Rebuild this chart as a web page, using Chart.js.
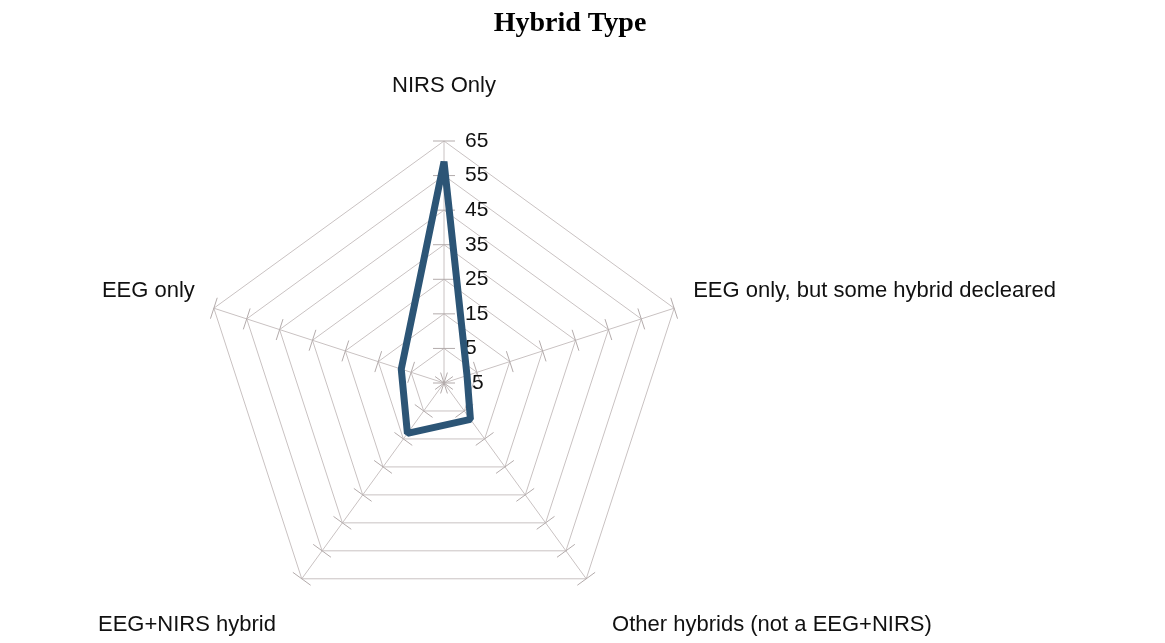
<!DOCTYPE html>
<html>
<head>
<meta charset="utf-8">
<script src="https://cdn.jsdelivr.net/npm/chart.js@4.4.1/dist/chart.umd.min.js"></script>
<style>
  html, body { margin: 0; padding: 0; background: #ffffff; overflow: hidden; width: 1165px; height: 643px; }
  #view { position: relative; width: 1165px; height: 643px; overflow: hidden; }
  #wrap { position: absolute; left: -250px; top: 0; width: 1388px; height: 658px; }
</style>
</head>
<body>
<div id="view"><div id="wrap"><canvas id="c"></canvas></div></div>
<script>
// ---- data ----
const chartTitle = 'Hybrid Type';
const categories = [
  'NIRS Only',
  'EEG only, but some hybrid decleared',
  'Other hybrids (not a EEG+NIRS)',
  'EEG+NIRS hybrid',
  'EEG only'
];
const seriesValues = [59, 2, 8, 13, 8];
const tickValues = [-5, 5, 15, 25, 35, 45, 55, 65];
const tickLabels = ['-5', '5', '15', '25', '35', '45', '55', '65'];

const CANVAS_SHIFT = 250; // canvas starts 250px left of the visible page

const decor = {
  id: 'decor',
  beforeDatasetsDraw(chart) {
    const s = chart.scales.r;
    const ctx = chart.ctx;
    ctx.save();
    // cross tick marks on every spoke
    ctx.strokeStyle = '#b3abab';
    ctx.lineWidth = 1;
    s.ticks.forEach(t => {
      const d = s.getDistanceFromCenterForValue(t.value);
      for (let i = 0; i < categories.length; i++) {
        const p = s.getPointPosition(i, d);
        const nx = -Math.sin(p.angle), ny = Math.cos(p.angle);
        ctx.beginPath();
        ctx.moveTo(p.x - nx * 11, p.y - ny * 11);
        ctx.lineTo(p.x + nx * 11, p.y + ny * 11);
        ctx.stroke();
      }
    });
    // value labels along the vertical axis
    ctx.fillStyle = '#111111';
    ctx.font = '21px "Liberation Sans", Arial, sans-serif';
    ctx.textAlign = 'left';
    ctx.textBaseline = 'middle';
    s.ticks.forEach(t => {
      const k = tickValues.indexOf(t.value);
      if (k < 0) return;
      const d = s.getDistanceFromCenterForValue(t.value);
      ctx.fillText(tickLabels[k], s.xCenter + 21, s.yCenter - d);
    });
    ctx.restore();
  },
  afterDraw(chart) {
    const ctx = chart.ctx;
    ctx.save();
    ctx.fillStyle = '#000000';
    ctx.font = 'bold 28px "Liberation Serif", "Times New Roman", serif';
    ctx.textAlign = 'center';
    ctx.textBaseline = 'middle';
    ctx.fillText(chartTitle, 570 + CANVAS_SHIFT, 24);
    ctx.restore();
  }
};

new Chart(document.getElementById('c'), {
  type: 'radar',
  data: {
    labels: categories,
    datasets: [{
      label: chartTitle,
      data: seriesValues,
      borderColor: '#2c5576',
      borderWidth: 7,
      borderJoinStyle: 'bevel',
      fill: false,
      pointRadius: 0,
      pointHoverRadius: 0,
      tension: 0
    }]
  },
  options: {
    responsive: true,
    maintainAspectRatio: false,
    animation: false,
    events: [],
    layout: { padding: { top: 42, bottom: 0, left: 0, right: 0 } },
    plugins: {
      legend: { display: false },
      title: { display: false },
      tooltip: { enabled: false }
    },
    scales: {
      r: {
        min: tickValues[0],
        max: tickValues[tickValues.length - 1],
        beginAtZero: false,
        ticks: { stepSize: 10, display: false },
        grid: { color: '#c9c2c2', lineWidth: 1 },
        angleLines: { color: '#c9c2c2', lineWidth: 1 },
        pointLabels: {
          color: '#111111',
          font: { family: '"Liberation Sans", Arial, sans-serif', size: 22, lineHeight: 1.0 },
          padding: (c) => [44, 20, 44, 44, 20][c.index]
        }
      }
    }
  },
  plugins: [decor]
});
</script>
</body>
</html>
